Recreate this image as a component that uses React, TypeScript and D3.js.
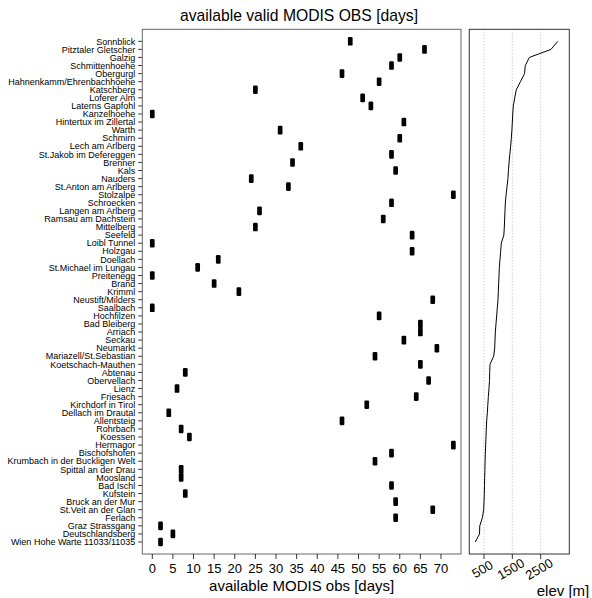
import React from "react";
import * as d3 from "d3";

const stations: string[] = [
  "Sonnblick", "Pitztaler Gletscher", "Galzig", "Schmittenhoehe", "Obergurgl",
  "Hahnenkamm/Ehrenbachhoehe", "Katschberg", "Loferer Alm", "Laterns Gapfohl", "Kanzelhoehe",
  "Hintertux im Zillertal", "Warth", "Schmirn", "Lech am Arlberg", "St.Jakob im Defereggen",
  "Brenner", "Kals", "Nauders", "St.Anton am Arlberg", "Stolzalpe",
  "Schroecken", "Langen am Arlberg", "Ramsau am Dachstein", "Mittelberg", "Seefeld",
  "Loibl Tunnel", "Holzgau", "Doellach", "St.Michael im Lungau", "Preitenegg",
  "Brand", "Krimml", "Neustift/Milders", "Saalbach", "Hochfilzen",
  "Bad Bleiberg", "Arriach", "Seckau", "Neumarkt", "Mariazell/St.Sebastian",
  "Koetschach-Mauthen", "Abtenau", "Obervellach", "Lienz", "Friesach",
  "Kirchdorf in Tirol", "Dellach im Drautal", "Allentsteig", "Rohrbach", "Koessen",
  "Hermagor", "Bischofshofen", "Krumbach in der Buckligen Welt", "Spittal an der Drau", "Moosland",
  "Bad Ischl", "Kufstein", "Bruck an der Mur", "St.Veit an der Glan", "Ferlach",
  "Graz Strassgang", "Deutschlandsberg", "Wien Hohe Warte 11033/11035",
];

const obsDays: number[] = [
  48, 66, 60, 58, 46, 55, 25, 51, 53, 0,
  61, 31, 60, 36, 58, 34, 59, 24, 33, 73,
  58, 26, 56, 25, 63, 0, 63, 16, 11, 0,
  15, 21, 68, 0, 55, 65, 65, 61, 69, 54,
  65, 8, 67, 6, 64, 52, 4, 46, 7, 9,
  73, 58, 54, 7, 7, 58, 8, 59, 68, 59,
  2, 5, 2,
];

const elevation: number[] = [
  3106, 2864, 2100, 1958, 1930, 1785, 1640, 1585, 1535, 1515,
  1500, 1485, 1465, 1440, 1410, 1385, 1362, 1345, 1312, 1280,
  1253, 1241, 1229, 1217, 1200, 1112, 1088, 1065, 1041, 1030,
  1018, 1005, 994, 970, 947, 923, 900, 888, 877, 841,
  712, 700, 695, 676, 653, 635, 618, 594, 582, 570,
  559, 547, 538, 532, 523, 518, 512, 500, 488, 441,
  350, 342, 193,
];

const obsTicks: number[] = [0, 5, 10, 15, 20, 25, 30, 35, 40, 45, 50, 55, 60, 65, 70];
const elevTicks: number[] = [500, 1500, 2500];

const FONT = "'Liberation Sans', Arial, Helvetica, sans-serif";

export default function App() {
  const W = 592, H = 598;
  const top = 29.3, bottom = 554;
  const l1 = 142.3, r1 = 461;
  const l2 = 469.3, r2 = 569.3;

  const y = d3.scalePoint<string>().domain(stations).range([top, bottom]).padding(1.486);
  const x = d3.scaleLinear().domain([-2.42, 74.85]).range([l1, r1]);
  const xe = d3.scaleLinear().domain([-19, 3511]).range([l2, r2]);

  const line = d3.line<number>()
    .x((d) => xe(d))
    .y((_, i) => y(stations[i]) as number);

  const markW = 4.7, markH = 8.6;

  return (
    <div style={{ position: "fixed", left: 0, top: 0 }}>
      <svg width={W} height={H} style={{ display: "block", background: "#fff" }} fontFamily={FONT}>
        <text x={299} y={20.5} textAnchor="middle" fontSize={15.7} fill="#000">
          available valid MODIS OBS [days]
        </text>

        {/* left panel */}
        {stations.map((s) => (
          <g key={"yl" + s}>
            <line x1={l1 - 4} x2={l1} y1={y(s)} y2={y(s)} stroke="#000" strokeWidth={0.8} />
            <text x={l1 - 7} y={(y(s) as number) + 3.2} textAnchor="end" fontSize={9} fill="#000">
              {s}
            </text>
          </g>
        ))}
        {obsDays.map((v, i) => (
          <rect
            key={"m" + i}
            x={x(v) - markW / 2}
            y={(y(stations[i]) as number) - markH / 2}
            width={markW}
            height={markH}
            rx={1.2}
            fill="#000"
          />
        ))}
        <rect x={l1} y={top} width={r1 - l1} height={bottom - top} fill="none" stroke="#666" strokeWidth={1} />
        {obsTicks.map((t) => (
          <g key={"xt" + t}>
            <line x1={x(t)} x2={x(t)} y1={bottom} y2={bottom + 5} stroke="#000" strokeWidth={0.8} />
            <text x={x(t)} y={bottom + 19} textAnchor="middle" fontSize={13} fill="#000">
              {t}
            </text>
          </g>
        ))}
        <text x={(l1 + r1) / 2} y={591} textAnchor="middle" fontSize={15} fill="#000">
          available MODIS obs [days]
        </text>

        {/* right panel */}
        {elevTicks.map((t) => (
          <line key={"g" + t} x1={xe(t)} x2={xe(t)} y1={top} y2={bottom} stroke="#aaa" strokeWidth={0.8} strokeDasharray="1,2" />
        ))}
        <path d={line(elevation) || ""} fill="none" stroke="#000" strokeWidth={1} />
        <rect x={l2} y={top} width={r2 - l2} height={bottom - top} fill="none" stroke="#333" strokeWidth={1} />
        {elevTicks.map((t) => (
          <g key={"et" + t}>
            <line x1={xe(t)} x2={xe(t)} y1={bottom} y2={bottom + 5} stroke="#000" strokeWidth={0.8} />
            <text
              x={0}
              y={0}
              transform={`translate(${xe(t) - 1},${bottom + 16}) rotate(-30)`}
              textAnchor="middle"
              dominantBaseline="middle"
              fontSize={13}
              fill="#000"
            >
              {t}
            </text>
          </g>
        ))}
        <text x={563} y={596} textAnchor="middle" fontSize={15} fill="#000">
          elev [m]
        </text>
      </svg>
    </div>
  );
}
